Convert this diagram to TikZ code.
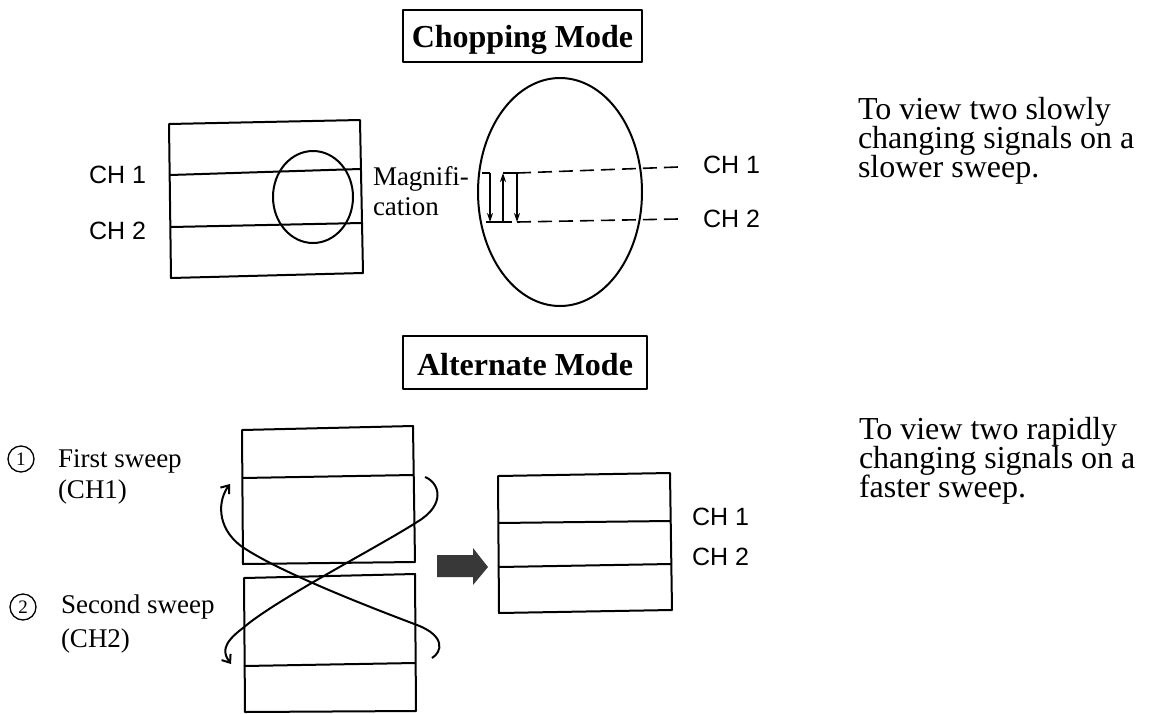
\documentclass[tikz,border=0pt]{standalone}
\usepackage{fontspec}
\setmainfont{Liberation Serif}
\newfontfamily\chsans{Liberation Sans}
\usetikzlibrary{arrows.meta}
\begin{document}
\begin{tikzpicture}[x=1pt,y=-1pt,
  line width=2pt, line join=round,
  lbl/.style={inner sep=0pt, anchor=base west},
  chlbl/.style={lbl, font=\chsans\fontsize{25}{25}\selectfont},
  body/.style={lbl, font=\fontsize{32}{29}\selectfont},
  small/.style={lbl, font=\fontsize{27}{27}\selectfont},
  title/.style={draw, anchor=base, inner sep=0pt, font=\bfseries\fontsize{32}{32}\selectfont},
  num/.style={circle, draw, line width=1.3pt, minimum size=26pt, inner sep=0pt, font=\fontsize{19}{19}\selectfont},
  thin/.style={line width=1.6pt},
  tip/.style={-{Stealth[length=9pt,width=6pt]}},
  barb/.style={-{Straight Barb[length=7pt,width=11pt]}},
  dashline/.style={dash pattern=on 14pt off 7pt},
]
\useasboundingbox (0,0) rectangle (1149,713);

% ---------- titles
\node[title, text height=37pt, text depth=15pt, minimum width=239pt] (chop) at (522.5,47) {Chopping Mode};
\node[title, text height=39pt, text depth=14pt, minimum width=244pt] (alt) at (525,375) {Alternate Mode};

% ---------- chopping: screen
\draw (169,124) -- (360,120) -- (363,273) -- (171,278) -- cycle;
\draw (170,175) -- (360,169);
\draw (171,227) -- (362,223);
\draw (313,197) ellipse [x radius=40pt, y radius=46pt];
\node[chlbl] (c1) at (88,183) {CH 1};
\node[chlbl] (c2) at (88,239) {CH 2};
\node[small] (mag1) at (372,185) {Magnifi-};
\node[small] (mag2) at (372,215) {cation};

% ---------- chopping: magnified view
\draw (560,192) ellipse [x radius=82pt, y radius=114pt];
\coordinate (z0) at (482,173);
\coordinate (z1) at (490,173);
\coordinate (z2) at (490,222);
\coordinate (b0) at (486,222);
\coordinate (b1) at (512,222);
\coordinate (z3) at (503,222);
\coordinate (z4) at (503,173);
\coordinate (z5) at (517,173);
\coordinate (z6) at (517,222);
\coordinate (d1) at (678,167);
\coordinate (d2) at (678,219);
\draw[thin] (z0) -- (z1);
\draw[thin, tip] (z1) -- (z2);
\draw[thin] (b0) -- (b1);
\draw[thin, tip] (z3) -- (z4);
\draw[thin] (z4) -- (z5);
\draw[thin, tip] (z5) -- (z6);
\draw[thin, dashline] (z5) -- (d1);
\draw[thin, dashline] (z6) -- (d2);
\node[chlbl] (r1) at (702,173) {CH 1};
\node[chlbl] (r2) at (702,227) {CH 2};

% ---------- chopping text
\node[body] (t1a) at (857,119) {To view two slowly};
\node[body] (t1b) at (857,148) {changing signals on a};
\node[body] (t1c) at (857,177) {slower sweep.};

% ---------- alternate: labels
\node[num] (n1) at (21,459) {1};
\node[small] (fs) at (57,467) {First sweep};
\node[small] (ch1p) at (57,498) {(CH1)};
\node[num] (n2) at (23,607) {2};
\node[small] (ss) at (60,613) {Second sweep};
\node[small] (ch2p) at (60,647) {(CH2)};

% ---------- alternate: two sweeps
\draw (242,430) -- (413,426) -- (415,562) -- (243,564) -- cycle;
\draw (242,478) -- (413,475);
\draw (245,712) -- (244,578) -- (415,574) -- (416,711) -- cycle;
\draw (244,666) -- (415,663);

\coordinate (a0) at (432,658);
\coordinate (a1) at (417,625);
\coordinate (a2) at (241,546);
\coordinate (a3) at (230,484);
\draw[barb] (a0) .. controls (442,652) and (446,636) .. (a1)
  .. controls (380,611) and (280,573) .. (a2)
  .. controls (216,527) and (218,500) .. (a3);

\coordinate (e0) at (425,477);
\coordinate (e1) at (417,522);
\coordinate (e2) at (243,628);
\coordinate (e3) at (231,664);
\draw[barb] (e0) .. controls (440,483) and (446,505) .. (e1)
  .. controls (380,546) and (275,600) .. (e2)
  .. controls (220,645) and (224,654) .. (e3);

% ---------- alternate: result
\fill[black!78] (437,555) -- (473,555) -- (473,548) -- (488,567) -- (473,585) -- (473,577) -- (437,577) -- cycle;
\draw (498,476) -- (670,473) -- (672,610) -- (499,613) -- cycle;
\draw (498,523) -- (670,521);
\draw (499,567) -- (671,564);
\node[chlbl] (s1) at (691,525) {CH 1};
\node[chlbl] (s2) at (691,565) {CH 2};

% ---------- alternate text
\node[body] (t2a) at (858,439) {To view two rapidly};
\node[body] (t2b) at (858,468) {changing signals on a};
\node[body] (t2c) at (858,497) {faster sweep.};
\end{tikzpicture}
\end{document}
